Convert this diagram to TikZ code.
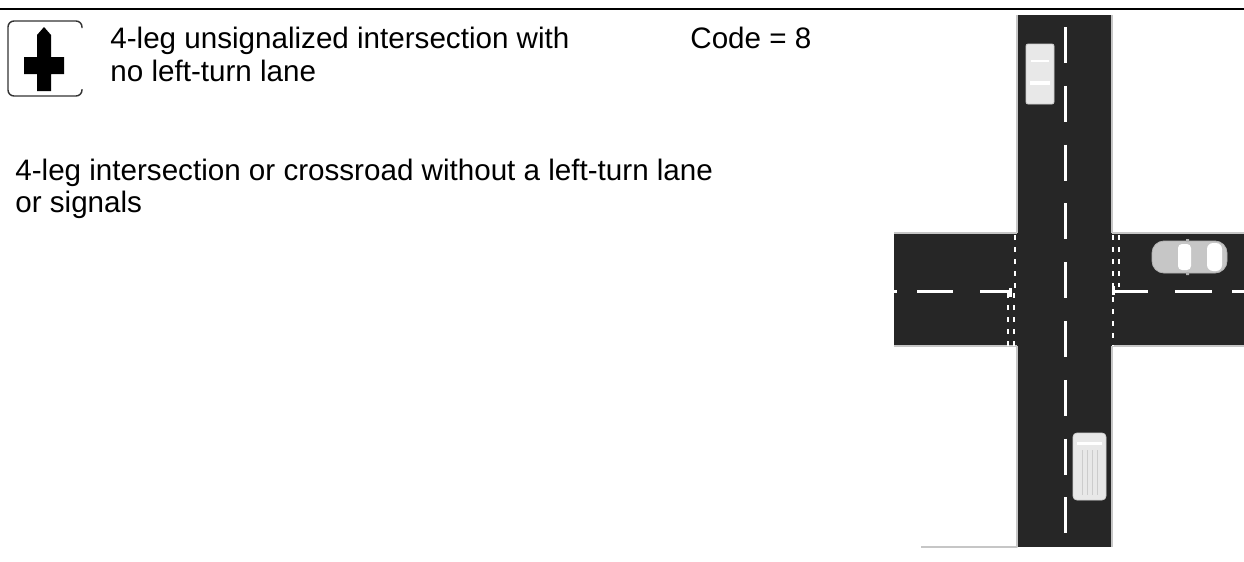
\documentclass[tikz,border=0pt]{standalone}
\usepackage{fontspec}
\setmainfont{Liberation Sans}
\definecolor{asphalt}{HTML}{262626}

\begin{document}
\begin{tikzpicture}[x=0.5pt, y=-0.5pt, line join=round, font=\fontsize{14.8}{17}\selectfont,
	txt/.style={anchor=base west, inner sep=0pt},
	lane/.style={white, line width=1.5pt},
	zebra/.style={white, line width=1.2pt, dash pattern=on 2.5pt off 3.5pt},
	edge/.style={gray!45, line width=0.8pt}]
	\useasboundingbox (0,0) rectangle (1244,562);

	% Đường kẻ trên cùng
	\draw[line width=1.2pt] (0,9) -- (1244,9);

	% Biểu tượng ngã tư
	\draw[line width=0.7pt, black!80, rounded corners=3pt] (82,28) -- (82,21) -- (8,21) -- (8,96) -- (82,96) -- (82,89);
	\fill (44,27) -- (51,35) -- (51,57) -- (64,57) -- (64,74) -- (51,74) -- (51,91)
		-- (37,91) -- (37,74) -- (24,74) -- (24,57) -- (37,57) -- (37,35) -- cycle;

	% Chữ
	\node[txt] (tieude1) at (110,48) {4-leg unsignalized intersection with};
	\node[txt] (tieude2) at (110,82) {no left-turn lane};
	\node[txt] (ma) at (690,48) {Code = 8};
	\node[txt] (mota1) at (15,180) {4-leg intersection or crossroad without a left-turn lane};
	\node[txt] (mota2) at (15,212) {or signals};

	% Mặt đường
	\fill[asphalt] (1017,15) rectangle (1112,547);
	\fill[asphalt] (894,233) rectangle (1244,346);

	% Mép đường
	\draw[edge] (1017,15) -- (1017,233) (1017,346) -- (1017,547) -- (921,547);
	\draw[edge] (1112,15) -- (1112,233) (1112,346) -- (1112,547);
	\draw[edge] (894,233) -- (1017,233) (1112,233) -- (1244,233);
	\draw[edge] (894,346) -- (1017,346) (1112,346) -- (1244,346);

	% Vạch giữa dọc
	\draw[lane, dash pattern=on 18pt off 11.4pt] (1065,27) -- (1065,534);

	% Vạch giữa ngang
	\foreach \a/\b in {894/897, 917/953, 980/1010, 1113/1148, 1175/1212, 1232/1244}
		\draw[lane] (\a,291) -- (\b,291);
	\draw[lane] (1010,288) -- (1010,297);
	\draw[lane] (1113,286) -- (1113,295);

	% Vạch dừng
	\draw[zebra] (1015,235) -- (1015,291);
	\draw[zebra] (1008,293) -- (1008,346) (1014,293) -- (1014,346);
	\draw[zebra] (1113,235) -- (1113,287) (1119,235) -- (1119,287);
	\draw[zebra] (1113,297) -- (1113,346);

	% Xe con phía trên
	\filldraw[fill=gray!18, draw=gray!40, rounded corners=1pt] (1026,44) rectangle (1054,104);
	\draw[white, line width=0.6pt] (1031,61) -- (1049,61);
	\draw[white, line width=2pt] (1030,83) -- (1050,83);

	% Xe con bên phải
	\filldraw[fill=gray!45, draw=gray!60, rounded corners=6pt] (1152,241) rectangle (1227,273);
	\fill[white, rounded corners=2pt] (1178,244) rectangle (1191,270);
	\fill[white, rounded corners=3pt] (1207,243) rectangle (1222,271);
	\fill[gray!60] (1186,239) rectangle (1189,242) (1186,272) rectangle (1189,275);

	% Xe tải nhỏ phía dưới
	\filldraw[fill=gray!18, draw=gray!35, rounded corners=2pt] (1073,433) rectangle (1106,500);
	\draw[white, line width=1.5pt] (1077,443) -- (1102,443);
	\foreach \x in {1082,1087,1092,1097}
		\draw[gray!40, line width=0.4pt] (\x,450) -- (\x,495);
\end{tikzpicture}
\end{document}
